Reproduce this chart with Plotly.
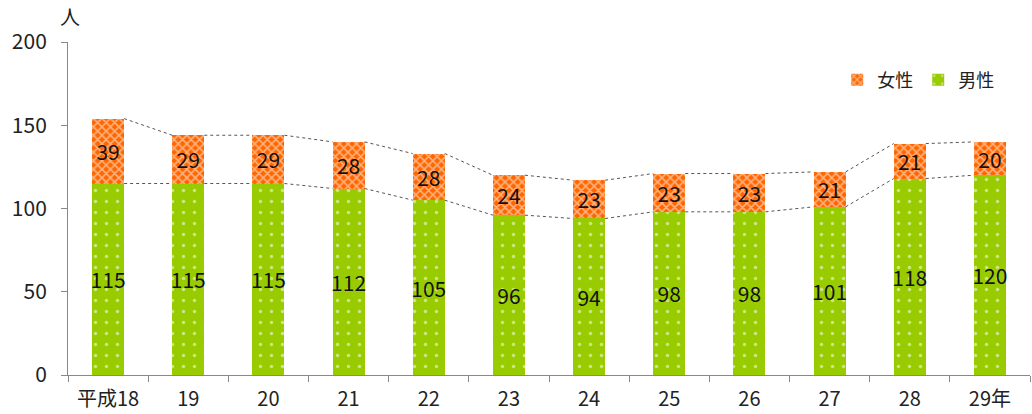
import plotly.graph_objects as go

categories = ["平成18", "19", "20", "21", "22", "23", "24", "25", "26", "27", "28", "29年"]
male = [115, 115, 115, 112, 105, 96, 94, 98, 98, 101, 118, 120]
female = [39, 29, 29, 28, 28, 24, 23, 23, 23, 21, 21, 20]
y_ticks = [0, 50, 100, 150, 200]

FONT = "Noto Sans CJK JP"
BW = 0.4
xs = list(range(len(categories)))
totals = [m + f for m, f in zip(male, female)]

fig = go.Figure()
fig.add_trace(go.Bar(
    x=xs, y=male, name="男性", width=BW,
    marker=dict(color="#99cc00", line=dict(width=0),
                pattern=dict(shape=".", fgcolor="white", bgcolor="#99cc00", size=11, solidity=0.08)),
    text=[str(v) for v in male], textposition="inside", insidetextanchor="middle", textangle=0,
    textfont=dict(size=21, color="#111", family=FONT), legendrank=2,
))
fig.add_trace(go.Bar(
    x=xs, y=female, name="女性", width=BW,
    marker=dict(color="#ff6600", line=dict(width=0),
                pattern=dict(shape="x", fgcolor="white", bgcolor="#ff6600", size=6, solidity=0.45)),
    text=[str(v) for v in female], textposition="inside", insidetextanchor="middle", textangle=0,
    textfont=dict(size=21, color="#111", family=FONT), legendrank=1,
))

# series connector lines
for series in (male, totals):
    lx, ly = [], []
    for i in range(len(xs) - 1):
        lx += [xs[i] + BW / 2, xs[i + 1] - BW / 2, None]
        ly += [series[i], series[i + 1], None]
    fig.add_trace(go.Scatter(x=lx, y=ly, mode="lines", showlegend=False, hoverinfo="skip",
                             line=dict(color="#555", width=1, dash="dot")))

fig.update_layout(
    width=1032, height=414,
    margin=dict(l=68, r=2, t=42, b=39),
    barmode="stack",
    uniformtext=dict(minsize=21, mode="show"),
    plot_bgcolor="white", paper_bgcolor="white",
    font=dict(family=FONT, size=20, color="#222"),
    legend=dict(orientation="h", x=0.968, y=0.886, xanchor="right", yanchor="middle",
                font=dict(size=18, family=FONT), traceorder="normal",
                itemwidth=30, bgcolor="rgba(0,0,0,0)", tracegroupgap=0),
    xaxis=dict(range=[-0.5, len(categories) - 0.5], tickvals=xs, ticktext=categories,
               showline=True, linecolor="#888", linewidth=1, ticks="", showgrid=False,
               zeroline=False, tickfont=dict(size=20), automargin=False, ticklabelstandoff=6),
    xaxis2=dict(range=[-0.5, len(categories) - 0.5], overlaying="x", anchor="y",
                side="bottom", tickvals=[i - 0.5 for i in range(len(categories) + 1)],
                ticks="outside", ticklen=6, tickcolor="#888", showticklabels=False,
                showgrid=False, zeroline=False, showline=False, automargin=False),
    yaxis=dict(range=[0, 200], tickvals=y_ticks, showline=True, linecolor="#888", linewidth=1,
               ticks="outside", ticklen=6, tickcolor="#888", showgrid=False, zeroline=False,
               tickfont=dict(size=21), automargin=False, ticklabelstandoff=10),
)
# invisible trace to activate xaxis2
fig.add_trace(go.Scatter(x=[0], y=[0], xaxis="x2", mode="markers", marker=dict(opacity=0),
                         showlegend=False, hoverinfo="skip"))
fig.add_annotation(text="人", xref="paper", yref="paper", x=0, y=1, xshift=2, yshift=26,
                   xanchor="center", yanchor="middle",
                   showarrow=False, font=dict(size=20, family=FONT, color="#222"))

fig.write_html("out.html", post_script="document.body.style.margin='0';",
               config={"displayModeBar": False})
